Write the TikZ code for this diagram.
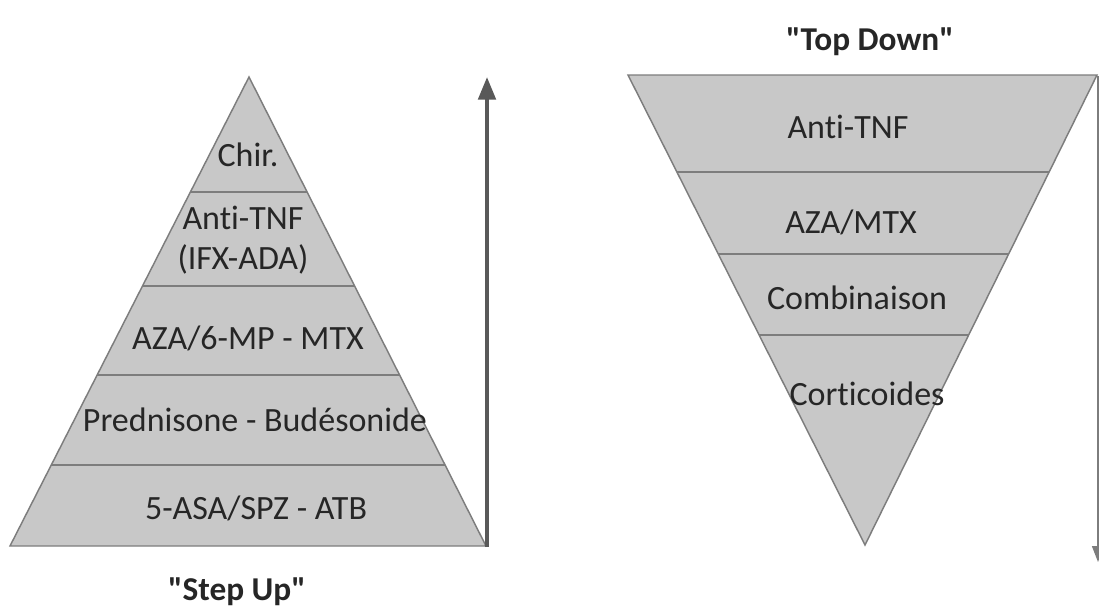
\documentclass[tikz,border=0pt]{standalone}
\usepackage{fontspec}
\setmainfont{Carlito}[Ligatures=NoCommon]
\usetikzlibrary{arrows.meta}
\definecolor{fillgray}{RGB}{200,200,200}
\definecolor{edgegray}{RGB}{125,125,125}
\definecolor{arrowgray}{RGB}{89,89,89}
\definecolor{txt}{RGB}{38,38,38}
\newcommand{\dq}{\XeTeXglyph\XeTeXcharglyph"22\relax}
\begin{document}
\begin{tikzpicture}[x=0.75pt,y=-0.75pt,
  lbl/.style={text=txt,font=\fontsize{25.5}{30}\selectfont,inner sep=0pt,align=center},
  ttl/.style={text=txt,font=\fontsize{25}{30}\selectfont\bfseries,inner sep=0pt},
  tri/.style={fill=fillgray},
  triedge/.style={draw=edgegray,line width=1.1pt,line join=miter},
  levelline/.style={draw=edgegray,line width=1pt},
  uparrow/.style={draw=arrowgray,line width=3pt,-{Triangle[length=17pt,width=13pt]}},
  downarrow/.style={draw=edgegray,line width=1.1pt,-{Triangle[length=12pt,width=9pt]}}]
\useasboundingbox (0,0) rectangle (1099,615);
\clip (0,0) rectangle (1099,615);

% ---- Left pyramid ("Step Up")
\fill[tri] (249,77) -- (486,546) -- (10,546) -- cycle;
\begin{scope}
  \clip (249,77) -- (486,546) -- (10,546) -- cycle;
  \foreach \yy in {192,286,375,465}
    \draw[levelline] (0,\yy) -- (500,\yy);
\end{scope}
\draw[triedge] (249,77) -- (486,546) -- (10,546) -- cycle;

\node[lbl] (chir) at (248,155) {Chir.};
\node[lbl] (antitnfL) at (243,240) {Anti-TNF\\(IFX-ADA)};
\node[lbl] (aza6) at (248,338) {AZA/6-MP - MTX};
\node[lbl] (pred) at (255,420) {Prednisone - Budésonide};
\node[lbl] (asa) at (256,508) {5-ASA/SPZ - ATB};
\node[ttl] (stepup) at (237,592) {\dq Step Up\dq};

\coordinate (upS) at (487,547);
\coordinate (upE) at (487,77);
\draw[uparrow] (upS) -- (upE);

% ---- Right inverted pyramid ("Top Down")
\fill[tri] (628,75) -- (1097,75) -- (865,545) -- cycle;
\begin{scope}
  \clip (628,75) -- (1097,75) -- (865,545) -- cycle;
  \foreach \yy in {172,254,335}
    \draw[levelline] (600,\yy) -- (1099,\yy);
\end{scope}
\draw[triedge] (628,75) -- (1097,75) -- (865,545) -- cycle;

\node[ttl] (topdown) at (870,42) {\dq Top Down\dq};
\node[lbl] (antitnfR) at (848,127) {Anti-TNF};
\node[lbl] (azamtx) at (851,222) {AZA/MTX};
\node[lbl] (combi) at (857,298) {Combinaison};
\node[lbl] (cortico) at (867,394) {Corticoides};

\coordinate (dnS) at (1098,76);
\coordinate (dnE) at (1098,562);
\draw[downarrow] (dnS) -- (dnE);
\end{tikzpicture}
\end{document}
